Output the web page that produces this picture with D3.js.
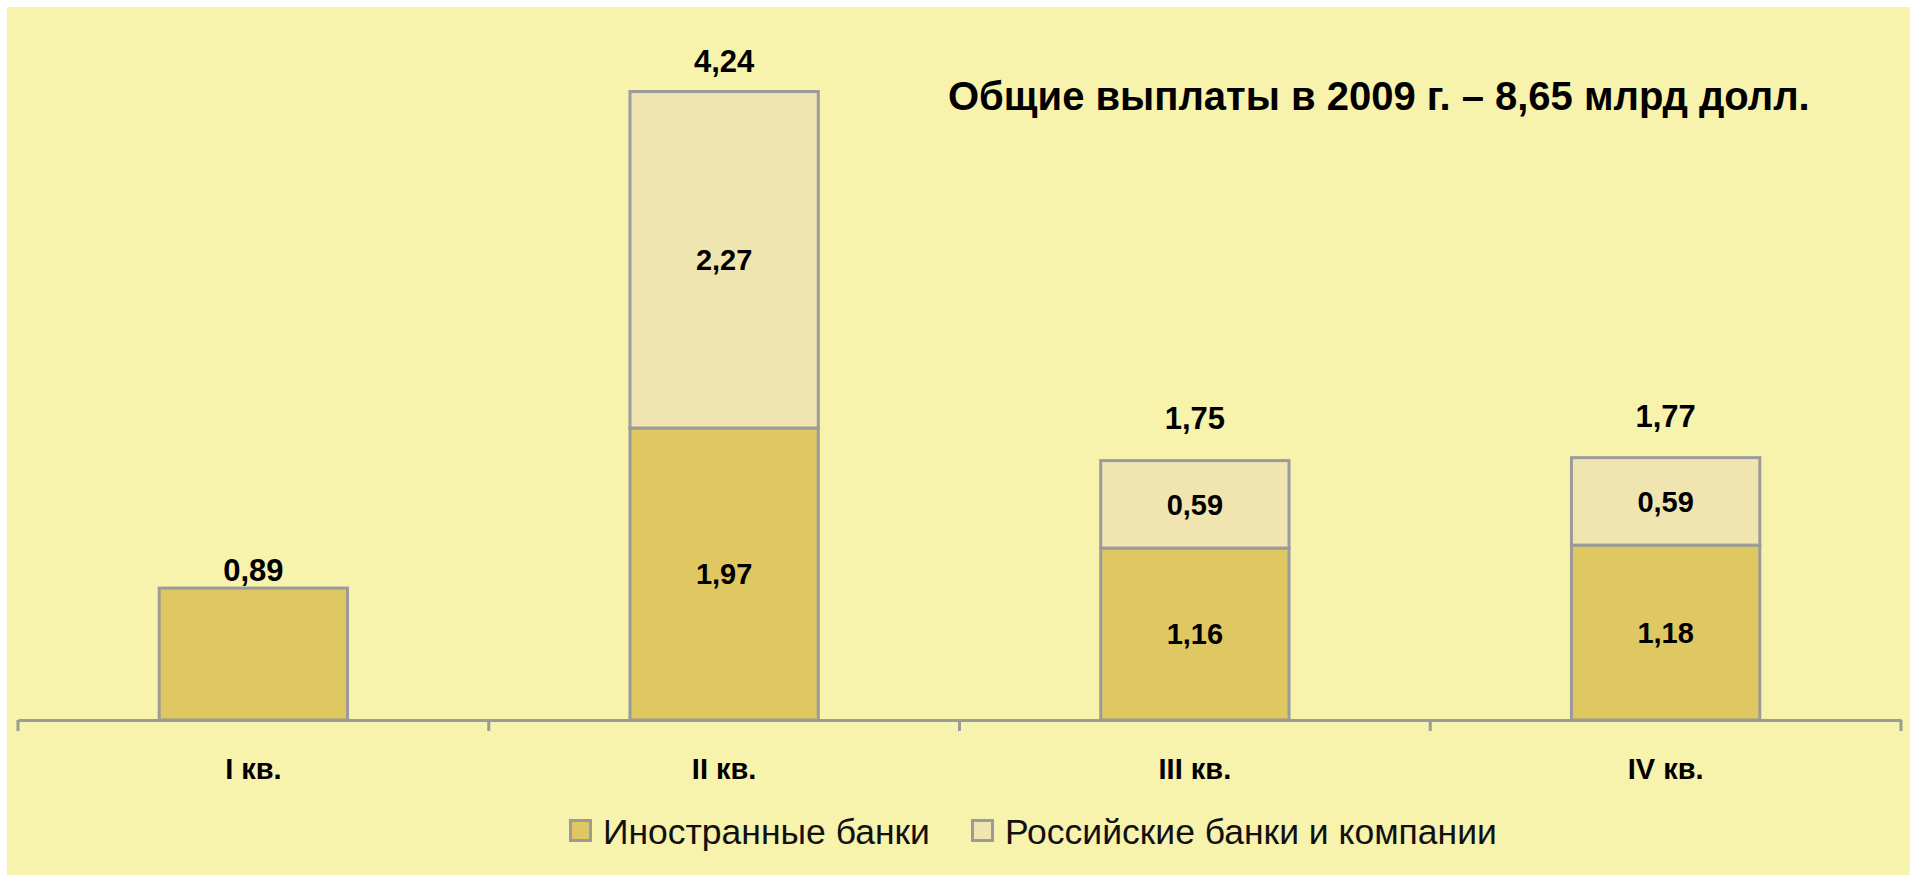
<!DOCTYPE html>
<html>
<head>
<meta charset="utf-8">
<script src="https://d3js.org/d3.v7.min.js"></script>
<style>
  body { margin: 0; background: #fff; }
  svg { display: block; font-family: "Liberation Sans", Arial, sans-serif; }
</style>
</head>
<body>
<svg></svg>
<script>
const width = 1910
const height = 875

// data (млрд долл.)
const quarters = ["I кв.", "II кв.", "III кв.", "IV кв."]
const foreignBanks = [0.89, 1.97, 1.16, 1.18]
const russianBanks = [0, 2.27, 0.59, 0.59]
const totals = [0.89, 4.24, 1.75, 1.77]
const seriesNames = ["Иностранные банки", "Российские банки и компании"]
const title = "Общие выплаты в 2009 г. – 8,65 млрд долл."

const colors = ["#dfc762", "#f0e4b1"]
const edge = "#9b9b9b"

const ru = d3.formatLocale({decimal: ",", thousands: " ", grouping: [3], currency: ["", ""]})
const fmt = ru.format(".2f")

const svg = d3.select("svg")
  .attr("width", width)
  .attr("height", height)

svg.append("rect")
  .attr("x", 7).attr("y", 7)
  .attr("width", width - 7).attr("height", height - 7)
  .attr("fill", "#f7f2ac")

const rows = quarters.map((q, i) => ({q: q, foreign: foreignBanks[i], russian: russianBanks[i], total: totals[i]}))
const stacked = d3.stack().keys(["foreign", "russian"])(rows)

const x = d3.scaleBand()
  .domain(quarters)
  .range([18, 1901])
  .paddingInner(0.6)
  .paddingOuter(0.3)

const y = d3.scaleLinear()
  .domain([0, 4.5])
  .range([720, 53])

// bars
const layers = svg.append("g")
  .selectAll("g")
  .data(stacked)
  .join("g")
  .attr("fill", (d, i) => colors[i])

layers.selectAll("rect")
  .data(d => d.filter(s => s[1] - s[0] > 0))
  .join("rect")
  .attr("x", d => x(d.data.q))
  .attr("y", d => y(d[1]))
  .attr("width", x.bandwidth())
  .attr("height", d => y(d[0]) - y(d[1]))
  .attr("stroke", edge)
  .attr("stroke-width", 3)

// values inside stacked bars (only when there are two parts)
layers.selectAll("text")
  .data(d => d.filter(s => s[1] - s[0] > 0 && s.data.russian > 0))
  .join("text")
  .attr("x", d => x(d.data.q) + x.bandwidth() / 2)
  .attr("y", d => (y(d[0]) + y(d[1])) / 2)
  .attr("dy", "0.36em")
  .attr("text-anchor", "middle")
  .attr("font-size", 29)
  .attr("font-weight", "bold")
  .attr("fill", "#000")
  .text(d => fmt(d[1] - d[0]))

// totals above bars
const totalGap = [7, 20, 32, 31]
svg.append("g")
  .selectAll("text")
  .data(rows)
  .join("text")
  .attr("x", d => x(d.q) + x.bandwidth() / 2)
  .attr("y", (d, i) => y(d.total) - totalGap[i])
  .attr("text-anchor", "middle")
  .attr("font-size", 31)
  .attr("font-weight", "bold")
  .text(d => fmt(d.total))

// category axis
const axis = svg.append("g")
  .attr("transform", "translate(0,720)")
  .call(d3.axisBottom(x).tickSize(0).tickSizeOuter(0).tickPadding(38))

axis.select(".domain")
  .attr("stroke", edge)
  .attr("stroke-width", 3)

axis.selectAll(".tick text")
  .attr("font-family", "Liberation Sans, Arial, sans-serif")
  .attr("font-size", 29)
  .attr("font-weight", "bold")
  .attr("fill", "#000")

axis.selectAll(".divider")
  .data(d3.range(quarters.length + 1))
  .join("line")
  .attr("class", "divider")
  .attr("x1", i => x.range()[0] + i * x.step())
  .attr("x2", i => x.range()[0] + i * x.step())
  .attr("y1", 0)
  .attr("y2", 11)
  .attr("stroke", edge)
  .attr("stroke-width", 3)

// title
svg.append("text")
  .attr("x", 948)
  .attr("y", 110)
  .attr("font-size", 40)
  .attr("font-weight", "bold")
  .text(title)

// legend
const legendX = [569, 971]
const legend = svg.append("g")
  .selectAll("g")
  .data(seriesNames)
  .join("g")
  .attr("transform", (d, i) => `translate(${legendX[i]},819)`)

legend.append("rect")
  .attr("x", 1.5).attr("y", 1.5)
  .attr("width", 20).attr("height", 20)
  .attr("fill", (d, i) => colors[i])
  .attr("stroke", edge)
  .attr("stroke-width", 3)

legend.append("text")
  .attr("x", 34)
  .attr("y", 25)
  .attr("font-size", 35.5)
  .attr("fill", "#111")
  .text(d => d)
</script>
</body>
</html>
